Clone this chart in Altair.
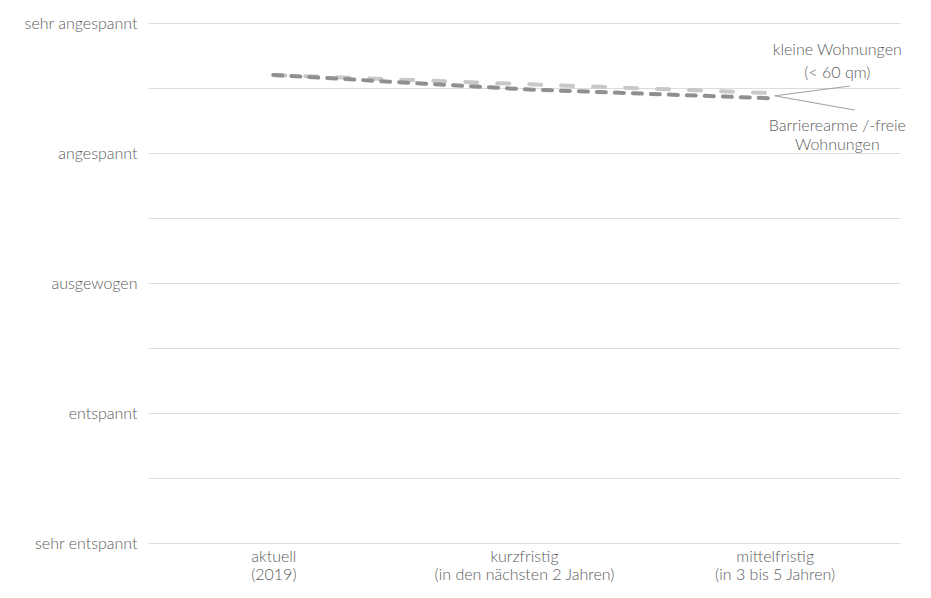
import altair as alt
import pandas as pd

# ---- data ----
categories = ["aktuell|(2019)", "kurzfristig|(in den nächsten 2 Jahren)", "mittelfristig|(in 3 bis 5 Jahren)"]
series_names = ["kleine Wohnungen (< 60 qm)", "Barrierearme /-freie Wohnungen"]
kleine = [4.60, 4.53, 4.46]
barriere = [4.60, 4.49, 4.42]
y_levels = [1, 2, 3, 4, 5]
y_labels = ["sehr entspannt", "entspannt", "ausgewogen", "angespannt", "sehr angespannt"]
grid_values = [1, 1.5, 2, 2.5, 3, 3.5, 4, 4.5, 5]

# annotation text lines (x in category units, y in scale units)
ann_text = ["kleine Wohnungen", "(< 60 qm)", "Barrierearme /-freie", "Wohnungen"]
ann_x = [2.25, 2.25, 2.25, 2.25]
ann_y = [4.79, 4.615, 4.21, 4.06]
# leader lines
lead_x = [2.0, 2.0]
lead_y = [4.44, 4.44]
lead_x2 = [2.30, 2.32]
lead_y2 = [4.515, 4.33]

FONT = "Lato"
FW = 300
FS = 16
TXT = "#5c5c5c"

rows = []
for i, c in enumerate(categories):
    rows.append({"idx": i, "value": kleine[i], "series": series_names[0]})
for i, c in enumerate(categories):
    rows.append({"idx": i, "value": barriere[i], "series": series_names[1]})
df = pd.DataFrame(rows)

cat_arr = "[" + ",".join("'" + c + "'" for c in categories) + "]"
x_label_expr = f"split({cat_arr}[datum.value], '|')"
y_expr = ""
for lv, lb in zip(y_levels, y_labels):
    y_expr += f"datum.value == {lv} ? '{lb}' : "
y_expr += "''"

x_scale = alt.Scale(domain=[-0.5, 2.5], nice=False, zero=False)
y_scale = alt.Scale(domain=[1, 5], nice=False, zero=False)

base = alt.Chart(df)

x_enc = alt.X("idx:Q", scale=x_scale, axis=alt.Axis(
    values=[0, 1, 2], labelExpr=x_label_expr, title=None, grid=False, domain=False,
    ticks=False, labelFont=FONT, labelFontSize=FS, labelFontWeight=FW, labelColor=TXT,
    labelPadding=5, labelLineHeight=18, labelBaseline="top", labelLimit=400))
y_enc = alt.Y("value:Q", scale=y_scale, axis=alt.Axis(
    values=grid_values, labelExpr=y_expr, title=None, grid=True, gridColor="#dcdcdc",
    gridWidth=1, domain=False, ticks=False, labelFont=FONT, labelFontSize=FS,
    labelFontWeight=FW, labelColor=TXT, labelPadding=11, labelLimit=300))

light = base.transform_filter(alt.datum.series == series_names[0]).mark_line(
    color="#c8c8c8", strokeWidth=4, strokeDash=[12, 20], strokeCap="round"
).encode(x=x_enc, y=y_enc)

dark = base.transform_filter(alt.datum.series == series_names[1]).mark_line(
    color="#8f8f8f", strokeWidth=4, strokeDash=[9, 9], strokeCap="round"
).encode(x="idx:Q", y="value:Q")

lead_df = pd.DataFrame({"x": lead_x, "y": lead_y, "x2": lead_x2, "y2": lead_y2})
leaders = alt.Chart(lead_df).mark_rule(color="#a0a0a0", strokeWidth=1).encode(
    x="x:Q", y="y:Q", x2="x2:Q", y2="y2:Q")

ann_df = pd.DataFrame({"x": ann_x, "y": ann_y, "t": ann_text})
ann = alt.Chart(ann_df).mark_text(
    font=FONT, fontSize=FS, fontWeight=FW, color=TXT, align="center", baseline="middle"
).encode(x="x:Q", y="y:Q", text="t:N")

chart = alt.layer(light, dark, leaders, ann).properties(
    width=752, height=520,
    background="white",
    autosize=alt.AutoSizeParams(type="none"),
    padding={"left": 140, "top": 15, "right": 15, "bottom": 45},
).configure_view(strokeWidth=0, stroke="transparent")

chart.save("out.html", embed_options={"renderer": "svg", "actions": False})
